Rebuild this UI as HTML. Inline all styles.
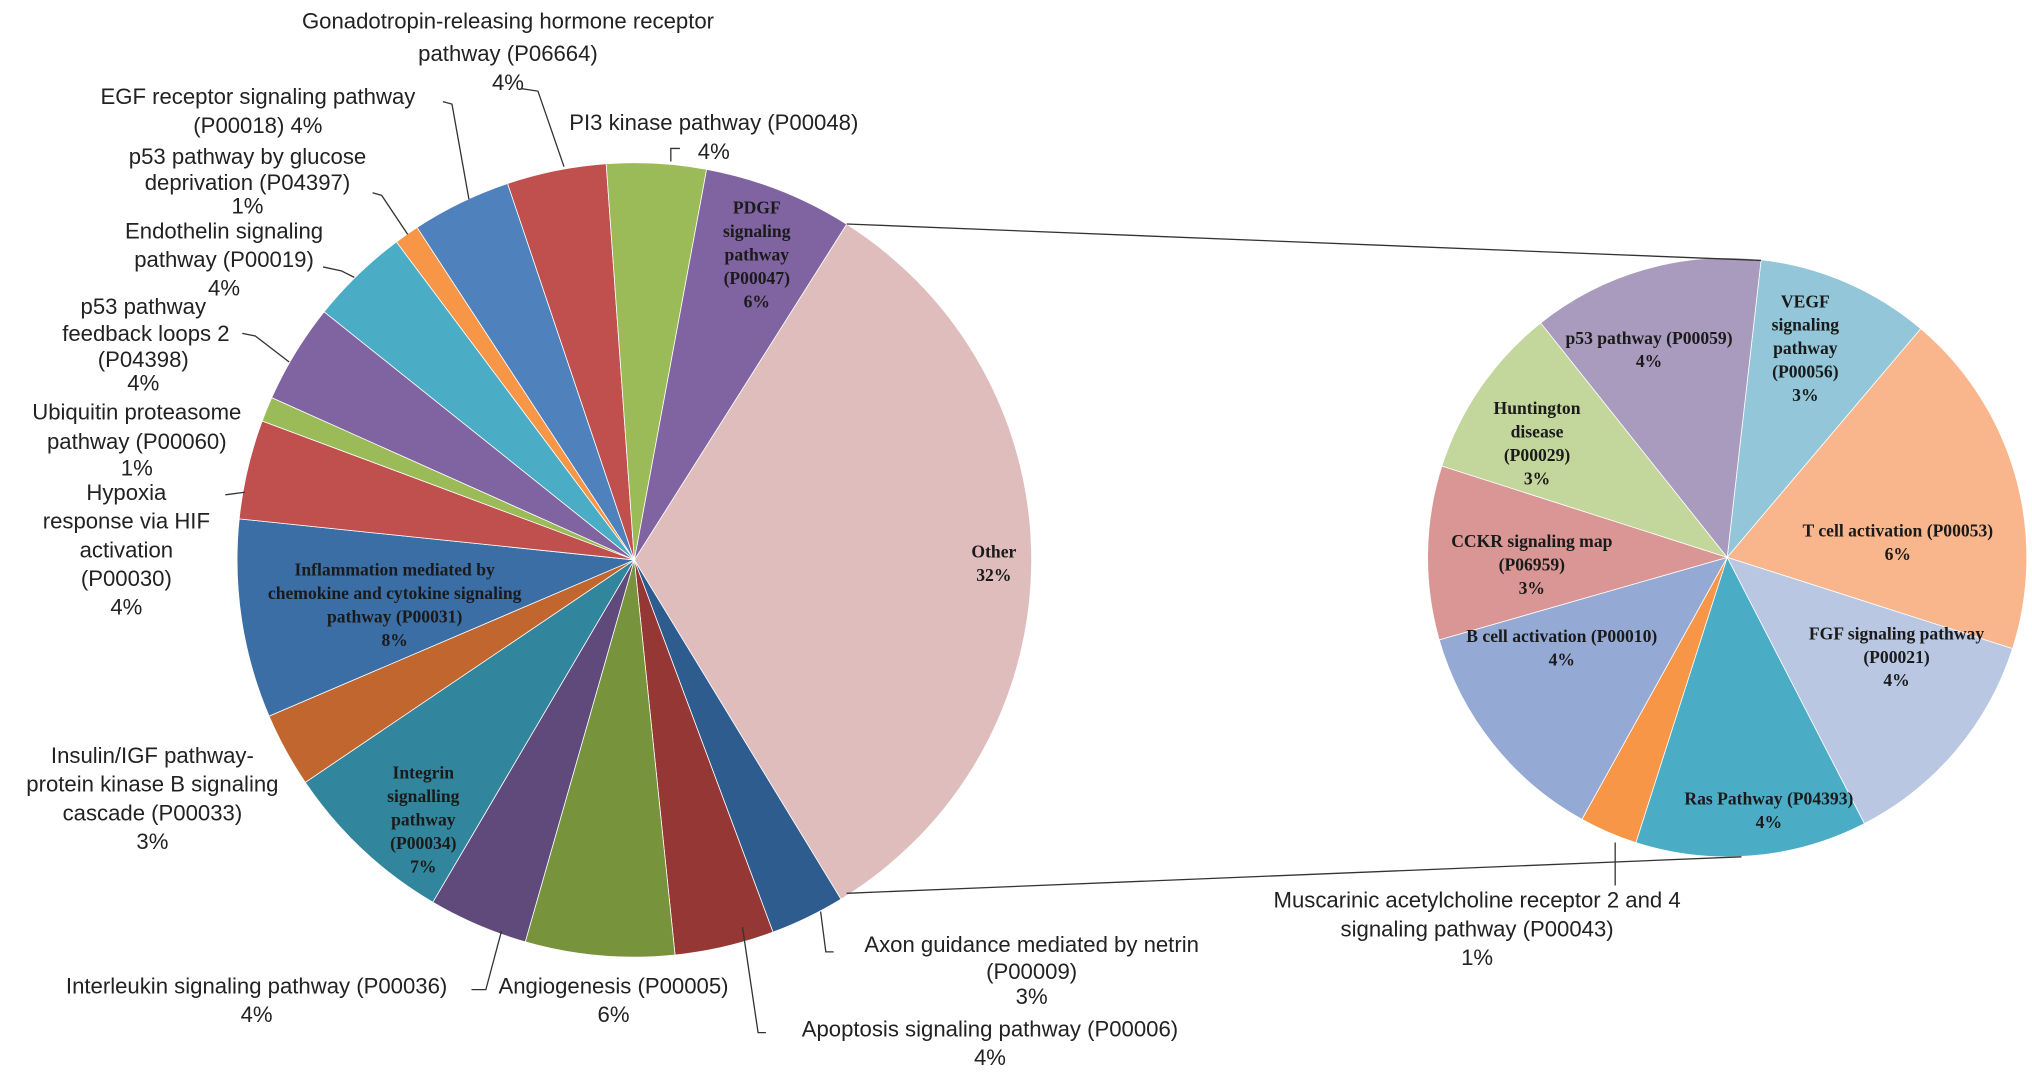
<!DOCTYPE html>
<html><head><meta charset="utf-8"><style>
html,body{margin:0;padding:0;background:#fff;overflow:hidden}
svg{display:block}
.o{font-family:"Liberation Sans",Arial,sans-serif;font-size:17px;fill:#222;text-anchor:middle}
.i{font-family:"Liberation Serif",serif;font-size:13.5px;font-weight:bold;fill:#1a1a1a;text-anchor:middle}
.l{fill:none;stroke:#333;stroke-width:1}
</style></head><body>
<svg id="chart" width="2032" height="1073" viewBox="0 0 1560 824" preserveAspectRatio="none" xmlns="http://www.w3.org/2000/svg">
<g id="main-pie"></g>
<g id="sub-pie"></g>
<line class="l" x1="650" y1="172" x2="1352" y2="200" stroke="#444"/>
<line class="l" x1="650" y1="686" x2="1337" y2="658" stroke="#444"/>
<g>
<polyline class="l" points="400,68 413,70 433,128"/>
<polyline class="l" points="515,124 515,114 522,114"/>
<polyline class="l" points="340,78 347,80 360,153"/>
<polyline class="l" points="286,148 293,150 313,180"/>
<polyline class="l" points="248,205 262,208 272,213"/>
<polyline class="l" points="186,256 196,258 222,278"/>
<polyline class="l" points="173,380 188,378"/>
<polyline class="l" points="362,760 373,760 385,715"/>
<polyline class="l" points="588,793 582,793 570,712"/>
<polyline class="l" points="640,731 634,731 630,700"/>
<polyline class="l" points="1240,647 1240,680"/>
</g>
<g>
<text class="o" x="390" y="22">Gonadotropin-releasing hormone receptor</text>
<text class="o" x="390" y="47">pathway (P06664)</text>
<text class="o" x="390" y="69">4%</text>
<text class="o" x="548" y="100">PI3 kinase pathway (P00048)</text>
<text class="o" x="548" y="122">4%</text>
<text class="o" x="198" y="80">EGF receptor signaling pathway</text>
<text class="o" x="198" y="102">(P00018) 4%</text>
<text class="o" x="190" y="126">p53 pathway by glucose</text>
<text class="o" x="190" y="146">deprivation (P04397)</text>
<text class="o" x="190" y="164">1%</text>
<text class="o" x="172" y="183">Endothelin signaling</text>
<text class="o" x="172" y="205">pathway (P00019)</text>
<text class="o" x="172" y="227">4%</text>
<text class="o" x="110" y="241">p53 pathway</text>
<text class="o" x="112" y="262">feedback loops 2</text>
<text class="o" x="110" y="282">(P04398)</text>
<text class="o" x="110" y="300">4%</text>
<text class="o" x="105" y="322">Ubiquitin proteasome</text>
<text class="o" x="105" y="345">pathway (P00060)</text>
<text class="o" x="105" y="365">1%</text>
<text class="o" x="97" y="384">Hypoxia</text>
<text class="o" x="97" y="406">response via HIF</text>
<text class="o" x="97" y="428">activation</text>
<text class="o" x="97" y="450">(P00030)</text>
<text class="o" x="97" y="472">4%</text>
<text class="o" x="117" y="586">Insulin/IGF pathway-</text>
<text class="o" x="117" y="608">protein kinase B signaling</text>
<text class="o" x="117" y="630">cascade (P00033)</text>
<text class="o" x="117" y="652">3%</text>
<text class="o" x="197" y="763">Interleukin signaling pathway (P00036)</text>
<text class="o" x="197" y="785">4%</text>
<text class="o" x="471" y="763">Angiogenesis (P00005)</text>
<text class="o" x="471" y="785">6%</text>
<text class="o" x="760" y="796">Apoptosis signaling pathway (P00006)</text>
<text class="o" x="760" y="818">4%</text>
<text class="o" x="792" y="731">Axon guidance mediated by netrin</text>
<text class="o" x="792" y="752">(P00009)</text>
<text class="o" x="792" y="771">3%</text>
<text class="o" x="1134" y="697">Muscarinic acetylcholine receptor 2 and 4</text>
<text class="o" x="1134" y="719">signaling pathway (P00043)</text>
<text class="o" x="1134" y="741">1%</text>
</g>
<g>
<text class="i" x="581" y="164">PDGF</text><text class="i" x="581" y="182">signaling</text><text class="i" x="581" y="200">pathway</text><text class="i" x="581" y="218">(P00047)</text><text class="i" x="581" y="236">6%</text>
<text class="i" x="763" y="428">Other</text><text class="i" x="763" y="446">32%</text>
<text class="i" x="303" y="442">Inflammation mediated by</text><text class="i" x="303" y="460">chemokine and cytokine signaling</text><text class="i" x="303" y="478">pathway (P00031)</text><text class="i" x="303" y="496">8%</text>
<text class="i" x="325" y="598">Integrin</text><text class="i" x="325" y="616">signalling</text><text class="i" x="325" y="634">pathway</text><text class="i" x="325" y="652">(P00034)</text><text class="i" x="325" y="670">7%</text>
<text class="i" x="1266" y="264">p53 pathway (P00059)</text><text class="i" x="1266" y="282">4%</text>
<text class="i" x="1386" y="236">VEGF</text><text class="i" x="1386" y="254">signaling</text><text class="i" x="1386" y="272">pathway</text><text class="i" x="1386" y="290">(P00056)</text><text class="i" x="1386" y="308">3%</text>
<text class="i" x="1180" y="318">Huntington</text><text class="i" x="1180" y="336">disease</text><text class="i" x="1180" y="354">(P00029)</text><text class="i" x="1180" y="372">3%</text>
<text class="i" x="1176" y="420">CCKR signaling map</text><text class="i" x="1176" y="438">(P06959)</text><text class="i" x="1176" y="456">3%</text>
<text class="i" x="1457" y="412">T cell activation (P00053)</text><text class="i" x="1457" y="430">6%</text>
<text class="i" x="1199" y="493">B cell activation (P00010)</text><text class="i" x="1199" y="511">4%</text>
<text class="i" x="1456" y="491">FGF signaling pathway</text><text class="i" x="1456" y="509">(P00021)</text><text class="i" x="1456" y="527">4%</text>
<text class="i" x="1358" y="618">Ras Pathway (P04393)</text><text class="i" x="1358" y="636">4%</text>
</g>
</svg>
<script>
const mainCategories = ["Other","Axon guidance","Apoptosis","Angiogenesis","Interleukin","Integrin","Insulin/IGF","Inflammation","Hypoxia","Ubiquitin","p53 feedback","Endothelin","p53 glucose","EGF","GnRH","PI3 kinase","PDGF"];
const mainValues = [32,3,4,6,4,7,3,8,4,1,4,4,1,4,4,4,6];
const mainColors = ["#e0bdbd","#2f5c8f","#953735","#77933c","#5f4a7b","#31859c","#c0662e","#3a6ea5","#c0504d","#9bbb59","#8064a2","#4bacc6","#f79646","#4f81bd","#c0504d","#9bbb59","#8064a2"];
const subCategories = ["VEGF","T cell activation","FGF","Ras","Muscarinic","B cell activation","CCKR","Huntington","p53"];
const subValues = [3,6,4,4,1,4,3,3,4];
const subColors = ["#93c6d8","#f9b58b","#b9c7e2","#4bacc6","#f79646","#95a9d5","#d99694","#c3d69b","#a99bbd"];
const NS="http://www.w3.org/2000/svg";
function drawPie(g,cats,vals,cols,cx,cy,r,startDeg){
  const total=vals.reduce((a,b)=>a+b,0);
  let a=startDeg*Math.PI/180;
  vals.forEach((v,i)=>{
    const da=v/total*2*Math.PI, b=a+da;
    const x1=cx+r*Math.cos(a),y1=cy+r*Math.sin(a),x2=cx+r*Math.cos(b),y2=cy+r*Math.sin(b);
    const p=document.createElementNS(NS,"path");
    p.setAttribute("d",`M${cx},${cy}L${x1},${y1}A${r},${r} 0 ${da>Math.PI?1:0} 1 ${x2},${y2}Z`);
    p.setAttribute("fill",cols[i]);
    p.setAttribute("stroke","#fff");p.setAttribute("stroke-width","0.6");
    
    
    g.appendChild(p);
    a=b;
  });
}
drawPie(document.getElementById("main-pie"),mainCategories,mainValues,mainColors,487,430,305,-57.7);
drawPie(document.getElementById("sub-pie"),subCategories,subValues,subColors,1326,428,230,-83.5);
</script>
</body></html>
